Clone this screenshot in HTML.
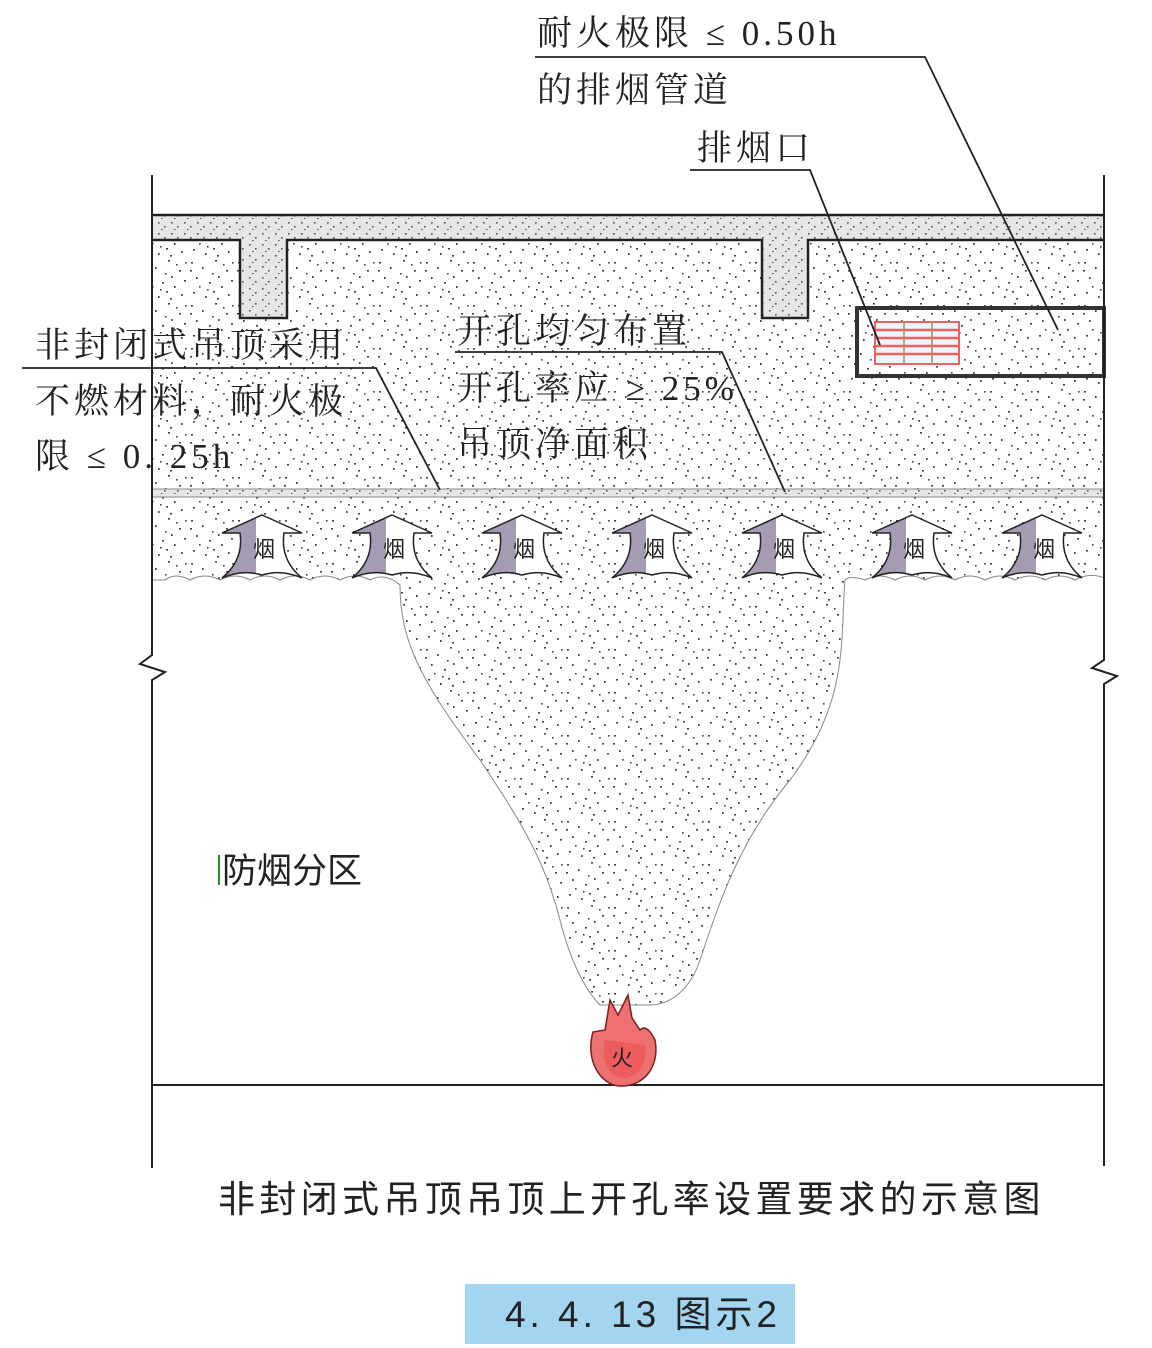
<!DOCTYPE html>
<html><head><meta charset="utf-8"><style>
html,body{margin:0;padding:0;background:#fff;}
svg{display:block;}
.l{font-family:"Liberation Serif","Noto Serif CJK SC",serif;font-size:35px;fill:#222;letter-spacing:4px;}
.s{font-family:"Liberation Sans","Noto Sans CJK SC",sans-serif;fill:#222;}
</style></head><body>
<svg width="1152" height="1348" viewBox="0 0 1152 1348" xmlns="http://www.w3.org/2000/svg">
<defs>
<pattern id="dots" width="47" height="43" patternUnits="userSpaceOnUse">
<rect width="47" height="43" fill="#fff"/>
<g fill="#444">
<rect x="3" y="4" width="2" height="1.6"/><rect x="14" y="9" width="1.6" height="2"/><rect x="27" y="2" width="2" height="1.6"/><rect x="38" y="12" width="2" height="1.6"/>
<rect x="8" y="19" width="1.6" height="2"/><rect x="21" y="24" width="2" height="1.6"/><rect x="33" y="28" width="1.6" height="2"/><rect x="43" y="22" width="2" height="1.6"/>
<rect x="5" y="34" width="2" height="1.6"/><rect x="17" y="38" width="1.6" height="2"/><rect x="29" y="40" width="2" height="1.6"/><rect x="40" y="36" width="1.6" height="2"/>
<rect x="24" y="15" width="1.6" height="1.6"/><rect x="11" y="28" width="1.6" height="1.6"/><rect x="35" y="6" width="1.6" height="1.6"/><rect x="19" y="31" width="1.6" height="1.6"/>
<rect x="2" y="12" width="2" height="1.6"/><rect x="30" y="18" width="1.6" height="2"/><rect x="44" y="4" width="1.6" height="1.6"/><rect x="25" y="33" width="2" height="1.6"/>
</g></pattern>
<pattern id="dense" width="13" height="11" patternUnits="userSpaceOnUse">
<rect width="13" height="11" fill="#e6e6e6"/><g fill="#555"><rect x="2" y="2" width="1.6" height="1.6"/><rect x="8" y="6" width="1.6" height="1.6"/><rect x="5" y="9" width="1.6" height="1"/></g></pattern>
<clipPath id="lh"><rect x="-50" y="500" width="44" height="100"/></clipPath>
<g id="arr">
<path d="M0,515 L40,533 L22,533 Q18,560 40,578 Q20,569 0,575 Q-20,569 -40,578 Q-18,560 -22,533 L-40,533 Z" fill="#fff"/>
<path d="M0,515 L40,533 L22,533 Q18,560 40,578 Q20,569 0,575 Q-20,569 -40,578 Q-18,560 -22,533 L-40,533 Z" fill="#a59bb3" clip-path="url(#lh)"/>
<path d="M0,515 L40,533 L22,533 Q18,560 40,578 Q20,569 0,575 Q-20,569 -40,578 Q-18,560 -22,533 L-40,533 Z" fill="none" stroke="#222" stroke-width="1.5"/>
<text x="2" y="557" class="s" font-size="22" text-anchor="middle">烟</text>
</g>
</defs>

<rect x="152" y="240" width="952" height="250" fill="url(#dots)"/>
<path d="M152,215 H1104 V240 H808 V318 H762 V240 H287 V318 H240 V240 H152 Z" fill="url(#dense)"/>
<line x1="152" y1="215" x2="1104" y2="215" stroke="#222" stroke-width="2.5"/>
<path d="M152,240 H240 V318 H287 V240 H762 V318 H808 V240 H1104" fill="none" stroke="#222" stroke-width="2.5"/>

<rect x="152" y="489" width="952" height="8" fill="url(#dense)"/>
<line x1="152" y1="489" x2="1104" y2="489" stroke="#888" stroke-width="1"/>
<line x1="152" y1="497" x2="1104" y2="497" stroke="#888" stroke-width="1"/>

<path d="M152,497 H1104 V578 Q1090,572 1075,580 Q1060,572 1045,580 Q1030,572 1015,580 Q1000,572 985,580 Q970,572 955,580 Q940,572 925,580 Q910,572 895,580 Q880,572 865,580 Q850,575 845,580 C840,640 850,700 790,780 C740,840 720,900 700,960 C690,990 670,1005 650,1005 L600,1005 C585,990 570,960 560,920 C545,860 520,820 480,760 C420,680 400,640 400,585 Q385,572 370,580 Q355,572 340,580 Q325,572 310,580 Q295,572 280,580 Q265,572 250,580 Q235,572 220,580 Q205,572 190,580 Q175,572 165,580 L152,580 Z" fill="url(#dots)" stroke="#888" stroke-width="1"/>

<rect x="857" y="308" width="247" height="68" fill="none" stroke="#333" stroke-width="4"/>
<rect x="875" y="322" width="84" height="42" fill="#eef6fb" stroke="#f06060" stroke-width="2"/>
<g stroke="#f06060" stroke-width="2.5"><line x1="875" y1="330" x2="959" y2="330"/><line x1="875" y1="338" x2="959" y2="338"/><line x1="875" y1="346" x2="959" y2="346"/><line x1="875" y1="354" x2="959" y2="354"/></g>
<g stroke="#aa8866" stroke-width="1.5"><line x1="904" y1="322" x2="904" y2="364"/><line x1="932" y1="322" x2="932" y2="364"/></g>

<g stroke="#222" stroke-width="2" fill="none">
<path d="M152,175 V655 L140,664 L165,672 L152,680 V1168"/>
<path d="M1104,175 V660 L1092,668 L1117,676 L1104,684 V1166"/>
<line x1="152" y1="1085" x2="1104" y2="1085"/>
</g>

<use href="#arr" x="262"/><use href="#arr" x="392"/><use href="#arr" x="522"/><use href="#arr" x="652"/><use href="#arr" x="782"/><use href="#arr" x="912"/><use href="#arr" x="1042"/>

<path d="M593,1032 C585,1060 600,1085 620,1086 C645,1087 660,1065 655,1040 C650,1030 645,1025 640,1030 L632,1018 L628,995 L618,1015 L610,1000 L605,1030 Z" fill="#ee7070" stroke="#7a2020" stroke-width="1.5"/>
<path d="M605,1040 C600,1060 610,1078 622,1078 C640,1078 648,1062 645,1045 Z" fill="#e95050" opacity="0.6"/>
<text x="622" y="1066" class="s" font-size="22" text-anchor="middle" fill="#5a1010">火</text>

<g stroke="#222" stroke-width="1.8" fill="none">
<path d="M535,57 H925 L1058,330"/>
<path d="M690,170 H810 L880,345"/>
<path d="M22,368 H376 L440,490"/>
<path d="M455,352 H722 L785,492"/>
</g>

<text x="537" y="45" class="l">耐火极限 ≤ 0.50h</text>
<text x="537" y="102" class="l">的排烟管道</text>
<text x="697" y="160" class="l">排烟口</text>
<text x="35" y="357" class="l">非封闭式吊顶采用</text>
<text x="35" y="413" class="l">不燃材料，耐火极</text>
<text x="35" y="468" class="l">限 ≤ 0. 25h</text>
<text x="457" y="343" class="l">开孔均匀布置</text>
<text x="457" y="400" class="l">开孔率应 ≥ 25%</text>
<text x="457" y="456" class="l">吊顶净面积</text>
<line x1="219" y1="855" x2="219" y2="885" stroke="#2a8a2a" stroke-width="2"/>
<text x="222" y="883" class="s" font-size="35">防烟分区</text>

<text x="218" y="1212" class="s" font-size="37" letter-spacing="4.5" textLength="827" lengthAdjust="spacing">非封闭式吊顶吊顶上开孔率设置要求的示意图</text>
<rect x="465" y="1284" width="330" height="60" fill="#a3d5f0"/>
<text x="505" y="1327" class="s" font-size="37" fill="#333" textLength="272" lengthAdjust="spacing">4. 4. 13 图示2</text>
</svg>
</body></html>
